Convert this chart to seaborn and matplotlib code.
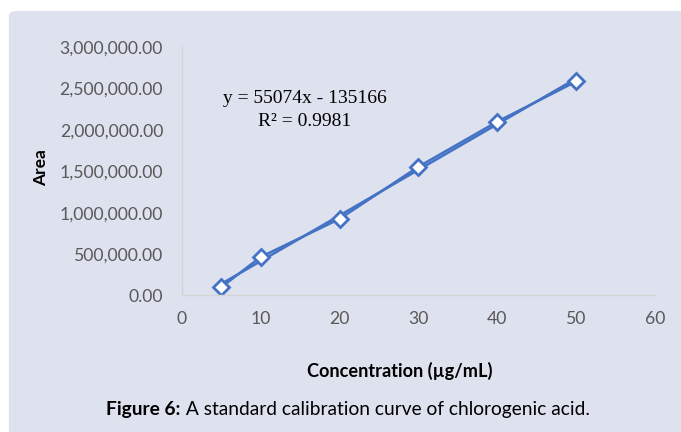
import matplotlib
matplotlib.use("Agg")
import matplotlib.pyplot as plt
import pandas as pd
import seaborn as sns
from matplotlib.patches import FancyBboxPatch
from matplotlib.ticker import FuncFormatter

# calibration data
concentration = [5, 10, 20, 30, 40, 50]
area = [100000, 465000, 925000, 1555000, 2100000, 2585000]
x_ticks = [0, 10, 20, 30, 40, 50, 60]
y_ticks = [0, 500000, 1000000, 1500000, 2000000, 2500000, 3000000]

BLUE = "#4472C4"
PANEL = "#DEE1EE"
GREY_TXT = "#595959"

sns.set_theme(style="white")
plt.rcParams["font.family"] = ["Lato", "DejaVu Sans"]

frame = pd.DataFrame({"conc": concentration, "area": area})

fig = plt.figure(figsize=(6.81, 4.32), dpi=100)
fig.patch.set_facecolor("white")
# lavender panel runs off the right and bottom edges of the image
panel = FancyBboxPatch((0.013, -0.05), 1.1, 1.0245,
                       boxstyle="round,pad=0,rounding_size=0.012",
                       transform=fig.transFigure, facecolor=PANEL,
                       edgecolor="none", zorder=-5)
fig.patches.append(panel)

ax = fig.add_axes([0.267, 0.316, 0.695, 0.575])
ax.set_facecolor("none")
ax.set_zorder(2)

# trendline (least squares over the data range, as Excel draws it)
sns.regplot(data=frame, x="conc", y="area", scatter=False, ci=None,
            color=BLUE, line_kws={"linewidth": 1.8}, ax=ax)
# the data series itself
sns.lineplot(data=frame, x="conc", y="area", color=BLUE, linewidth=1.8,
             marker="D", markersize=8.5, markerfacecolor="white",
             markeredgecolor=BLUE, markeredgewidth=2, ax=ax)

ax.set_xlim(0, 60)
ax.set_ylim(0, 3000000)
ax.set_xticks(x_ticks)
ax.set_yticks(y_ticks)
ax.yaxis.set_major_formatter(FuncFormatter(lambda v, _: f"{v:,.2f}"))
ax.tick_params(axis="both", length=0, labelsize=12.7, labelcolor=GREY_TXT)
ax.tick_params(axis="y", pad=13.5)
ax.tick_params(axis="x", pad=11)
for side in ("top", "right"):
    ax.spines[side].set_visible(False)
for side in ("left", "bottom"):
    ax.spines[side].set_color("#D4D4D4")
    ax.spines[side].set_linewidth(1)

ax.set_xlabel("Concentration (µg/mL)", fontsize=13.1, fontweight="bold", color="black")
ax.set_ylabel("Area", fontsize=12.5, fontweight="bold", color="black")
ax.xaxis.set_label_coords(0.46, -0.304)
ax.xaxis.label.set_verticalalignment("center")
ax.yaxis.set_label_coords(-0.297, 0.517)
ax.yaxis.label.set_verticalalignment("center")

ax.text(0.26, 0.773, "y = 55074x - 135166", transform=ax.transAxes,
        ha="center", va="baseline", fontsize=14, family="Liberation Serif", color="black")
ax.text(0.26, 0.681, "R² = 0.9981", transform=ax.transAxes,
        ha="center", va="baseline", fontsize=14, family="Liberation Serif", color="black")

# caption with bold lead-in, centred as one line
cap_y = 0.039
cap_cx = 0.511
lead = fig.text(0, cap_y, "Figure 6:", ha="left", va="baseline",
                fontsize=13.8, fontweight="bold", color="black")
rest = fig.text(0, cap_y, " A standard calibration curve of chlorogenic acid.",
                ha="left", va="baseline", fontsize=13.8, color="black")
fig.canvas.draw()
renderer = fig.canvas.get_renderer()
w1 = lead.get_window_extent(renderer).width / fig.bbox.width
w2 = rest.get_window_extent(renderer).width / fig.bbox.width
start = cap_cx - (w1 + w2) / 2
lead.set_x(start)
rest.set_x(start + w1)

fig.savefig("out.png", dpi=100, facecolor="white")
